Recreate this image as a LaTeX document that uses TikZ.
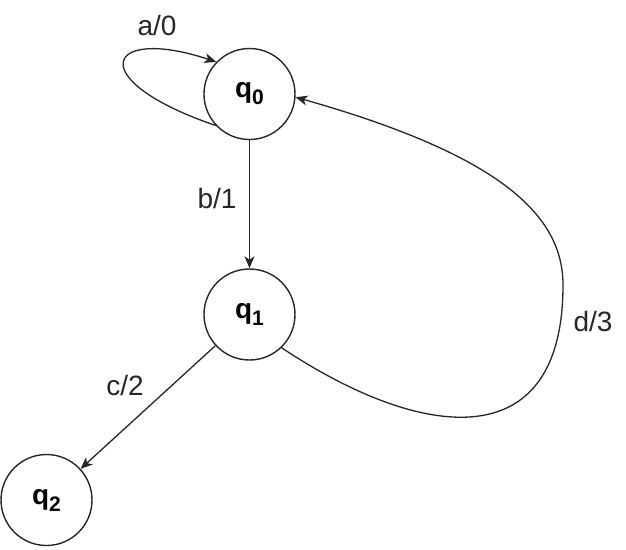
\documentclass[tikz,border=0pt]{standalone}
\usepackage{fontspec}
\setmainfont{Liberation Sans}
\usetikzlibrary{arrows.meta}
\begin{document}
\begin{tikzpicture}[x=1pt,y=-1pt,
  state/.style={circle,draw=black!85,line width=1.4pt,minimum size=91pt,inner sep=0pt,
    font=\fontsize{28}{30}\selectfont\bfseries},
  edge/.style={draw=black!85,line width=1.3pt,-{Stealth[length=12pt,width=10pt,inset=3.5pt]}},
  lbl/.style={anchor=base,inner sep=0pt,font=\fontsize{28}{30}\selectfont,text=black!85}]
\useasboundingbox (0,0) rectangle (626,549);
\newcommand{\qsub}[1]{\raisebox{-4pt}{q\raisebox{-7pt}{\fontsize{21}{21}\selectfont #1}}}
\node[state] (q0) at (249.5,94) {\qsub{0}};
\node[state] (q1) at (249.5,314.5) {\qsub{1}};
\node[state] (q2) at (46.5,500) {\qsub{2}};
% self loop a/0
\draw[edge] (q0.223) .. controls (82,80) and (105,25) .. (q0.136);
% b/1
\draw[edge] (q0) -- (q1);
% c/2
\draw[edge] (q1) -- (q2);
% d/3
\coordinate (r) at (563,285);
\draw[edge] (q1.314) .. controls (420,440) and (563,460) .. (r)
  .. controls (563,215) and (500,155) .. (q0.356);
\node[lbl] (la) at (157,35) {a/0};
\node[lbl] (lb) at (217,208) {b/1};
\node[lbl] (lc) at (125,395) {c/2};
\node[lbl] (ld) at (593,331.5) {d/3};
\end{tikzpicture}
\end{document}
